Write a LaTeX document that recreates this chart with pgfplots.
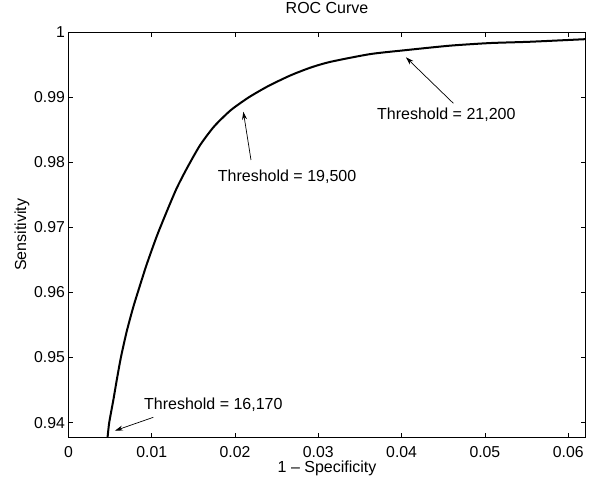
\documentclass[border=0pt]{standalone}
\usepackage{pgfplots}
\pgfplotsset{compat=1.18}
\usetikzlibrary{arrows.meta}
\usepackage{fontspec}
\setmainfont{Liberation Sans}
\begin{document}
\begin{tikzpicture}
\begin{axis}[
  at={(0,0)}, anchor=south west,
  scale only axis, width=517.3pt, height=405.7pt,
  xmin=0, xmax=0.0621, ymin=0.93768, ymax=1,
  axis line style={line width=0.9pt},
  tick style={line width=0.8pt, black},
  major tick length=5pt,
  tick align=inside,
  xtick={0,0.01,0.02,0.03,0.04,0.05,0.06},
  xticklabels={0,0.01,0.02,0.03,0.04,0.05,0.06},
  ytick={0.94,0.95,0.96,0.97,0.98,0.99,1},
  yticklabels={0.94,0.95,0.96,0.97,0.98,0.99,1},
  /pgf/number format/assume math mode=true,
  ticklabel style={font=\fontsize{15.8}{18}\selectfont},
  xticklabel style={anchor=base, yshift=-20pt},
  yticklabel style={anchor=east, xshift=0pt},
  title={ROC Curve},
  title style={at={(rel axis cs:0.5,1)}, anchor=base, yshift=12pt, font=\fontsize{16}{19}\selectfont},
  xlabel={1 -- Specificity},
  xlabel style={at={(rel axis cs:0.5,0)}, anchor=base, yshift=-35pt, font=\fontsize{16}{19}\selectfont},
  ylabel={Sensitivity},
  ylabel style={at={(axis description cs:-0.0897,0.5)}, anchor=center, font=\fontsize{16}{19}\selectfont},
  clip=true,
]
\addplot[black, line width=2pt, line join=round, smooth, tension=0.4] coordinates {
(0.0047,0.9377)
(0.0049,0.9400)
(0.0054,0.9435)
(0.0058,0.9465)
(0.0063,0.9500)
(0.0070,0.9540)
(0.0078,0.9578)
(0.0086,0.9611)
(0.0094,0.9643)
(0.0106,0.9686)
(0.0118,0.9724)
(0.0130,0.9760)
(0.0142,0.9790)
(0.0158,0.9826)
(0.0175,0.9855)
(0.0195,0.9880)
(0.0217,0.9900)
(0.0240,0.9917)
(0.0266,0.9933)
(0.0290,0.9945)
(0.0314,0.9954)
(0.0362,0.9966)
(0.0404,0.9972)
(0.0458,0.9979)
(0.0506,0.9983)
(0.0554,0.9985)
(0.0621,0.9989)
};
\draw[-{Stealth[length=8pt,width=5pt]}, line width=0.7pt] (axis cs:0.01019,0.94081) -- (axis cs:0.00559,0.93876);
\node[font=\fontsize{16}{19}\selectfont] at (axis cs:0.01740,0.94270) {Threshold = 16,170};
\draw[-{Stealth[length=8pt,width=5pt]}, line width=0.7pt] (axis cs:0.02192,0.98034) -- (axis cs:0.02100,0.98776);
\node[font=\fontsize{16}{19}\selectfont] at (axis cs:0.02625,0.97772) {Threshold = 19,500};
\draw[-{Stealth[length=8pt,width=5pt]}, line width=0.7pt] (axis cs:0.04621,0.98905) -- (axis cs:0.04052,0.99611);
\node[font=\fontsize{16}{19}\selectfont] at (axis cs:0.04537,0.98725) {Threshold = 21,200};
\end{axis}
\pgfresetboundingbox
\path[use as bounding box] (-68.4pt,-39.3pt) rectangle (523.6pt,437.7pt);
\end{tikzpicture}
\end{document}
